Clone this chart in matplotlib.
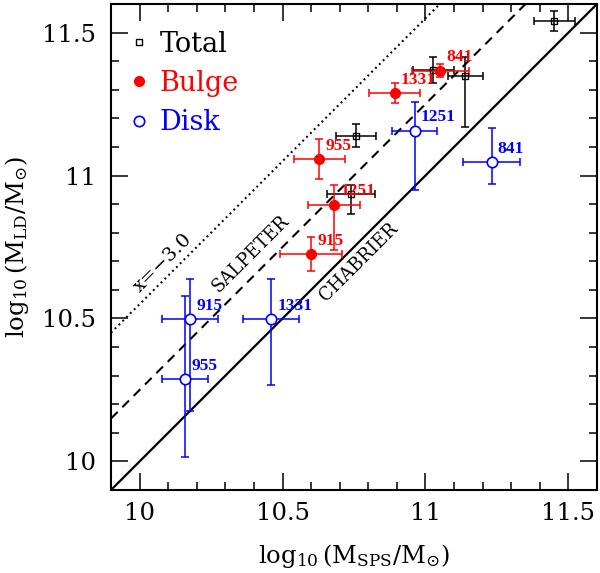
import matplotlib
matplotlib.use("Agg")
import matplotlib.pyplot as plt
from matplotlib.ticker import MultipleLocator

plt.rcParams['font.family'] = 'DejaVu Serif'
plt.rcParams['mathtext.fontset'] = 'dejavuserif'

# total mass (black open squares)
tot_x = [11.451, 11.028, 11.140, 10.758, 10.740]
tot_y = [11.540, 11.370, 11.349, 11.140, 10.936]
tot_xerr = [0.072, 0.072, 0.061, 0.070, 0.085]
tot_ylo = [0.034, 0.045, 0.180, 0.041, 0.070]
tot_yhi = [0.034, 0.045, 0.066, 0.041, 0.030]

# bulge component (red filled circles)
bul_id = ['841', '1331', '955', '1251', '915']
bul_x = [11.052, 10.892, 10.629, 10.680, 10.600]
bul_y = [11.367, 11.288, 11.058, 10.898, 10.726]
bul_xerr = [0.099, 0.090, 0.090, 0.090, 0.109]
bul_ylo = [0.022, 0.035, 0.069, 0.160, 0.060]
bul_yhi = [0.022, 0.035, 0.069, 0.070, 0.060]

# disk component (blue open circles)
dsk_id = ['1251', '841', '915', '1331', '955']
dsk_x = [10.962, 11.231, 10.177, 10.460, 10.160]
dsk_y = [11.157, 11.048, 10.497, 10.497, 10.287]
dsk_xerr = [0.079, 0.100, 0.099, 0.099, 0.080]
dsk_ylo = [0.207, 0.077, 0.320, 0.228, 0.270]
dsk_yhi = [0.101, 0.120, 0.140, 0.140, 0.290]

# IMF relations: offset of log M_LD above log M_SPS
imf_names = ['CHABRIER', 'SALPETER', 'x=\u22123.0']
imf_offset = [0.0, 0.25, 0.55]
imf_label_xy = [(10.766, 10.696), (10.388, 10.727), (10.080, 10.694)]
imf_label_size = [13, 13, 14]

lim = [9.9, 11.6]
tick_vals = [10, 10.5, 11, 11.5]
tick_labels = ['10', '10.5', '11', '11.5']

fig = plt.figure(figsize=(6.0, 5.73), dpi=100)
ax = fig.add_axes([111/600, 83/573, 486/600, 486/573])

styles = [dict(ls='-', lw=1.6), dict(ls=(0, (4.5, 3.2)), lw=1.5), dict(ls=(0, (0.9, 1.7)), lw=1.5)]
for off, st in zip(imf_offset, styles):
    ax.plot(lim, [lim[0]+off, lim[1]+off], color='k', zorder=1, **st)
for name, (tx, ty), fs in zip(imf_names, imf_label_xy, imf_label_size):
    ax.text(tx, ty, name, rotation=45, rotation_mode='anchor', ha='center', va='center',
            fontsize=fs)

eb = dict(fmt='none', elinewidth=1.1, capsize=3, capthick=1.1, zorder=2)
ax.errorbar(tot_x, tot_y, xerr=tot_xerr, yerr=[tot_ylo, tot_yhi], ecolor='k', **eb)
ax.errorbar(bul_x, bul_y, xerr=bul_xerr, yerr=[bul_ylo, bul_yhi], ecolor='red', **eb)
ax.errorbar(dsk_x, dsk_y, xerr=dsk_xerr, yerr=[dsk_ylo, dsk_yhi], ecolor='blue', **eb)

h1, = ax.plot(tot_x, tot_y, 's', ms=5, mfc='none', mec='k', mew=1.0, zorder=3, label='Total')
h2, = ax.plot(bul_x, bul_y, 'o', ms=7, mfc='red', mec='red', zorder=3, label='Bulge')
h3, = ax.plot(dsk_x, dsk_y, 'o', ms=7.5, mfc='white', mec='blue', mew=1.2, zorder=3, label='Disk')

for ids, xs, ys, c in [(bul_id, bul_x, bul_y, 'red'), (dsk_id, dsk_x, dsk_y, 'blue')]:
    for s, x, y in zip(ids, xs, ys):
        ax.annotate(s, (x, y), xytext=(4.5, 9.5), textcoords='offset points',
                    ha='left', va='center', color=c, fontsize=12.5,
                    fontweight='bold', family='Liberation Serif', zorder=4)

ax.legend(handles=[h1, h2, h3], loc='upper left', bbox_to_anchor=(0.036, 0.945),
          frameon=False, fontsize=19.5, handlelength=0.8, handletextpad=0.35,
          labelspacing=0.45, borderpad=0, borderaxespad=0,
          labelcolor=['black', 'red', 'blue'])

ax.set_xlim(lim)
ax.set_ylim(lim)
ax.set_xticks(tick_vals)
ax.set_xticklabels(tick_labels)
ax.set_yticks(tick_vals)
ax.set_yticklabels(tick_labels)
ax.xaxis.set_minor_locator(MultipleLocator(0.1))
ax.yaxis.set_minor_locator(MultipleLocator(0.1))
ax.tick_params(which='both', direction='in', top=True, right=True, width=1.1)
ax.tick_params(which='major', length=12, labelsize=17.5)
ax.tick_params(which='minor', length=6)
ax.tick_params(axis='x', pad=9)
ax.tick_params(axis='y', pad=11)
for sp in ax.spines.values():
    sp.set_linewidth(1.5)

ax.set_xlabel(r'$\log_{10}(\mathrm{M_{SPS}/M_{\odot}})$', fontsize=17.5, labelpad=12)
ax.set_ylabel(r'$\log_{10}(\mathrm{M_{LD}/M_{\odot}})$', fontsize=17.5, labelpad=8)

fig.savefig('out.png', dpi=100)
